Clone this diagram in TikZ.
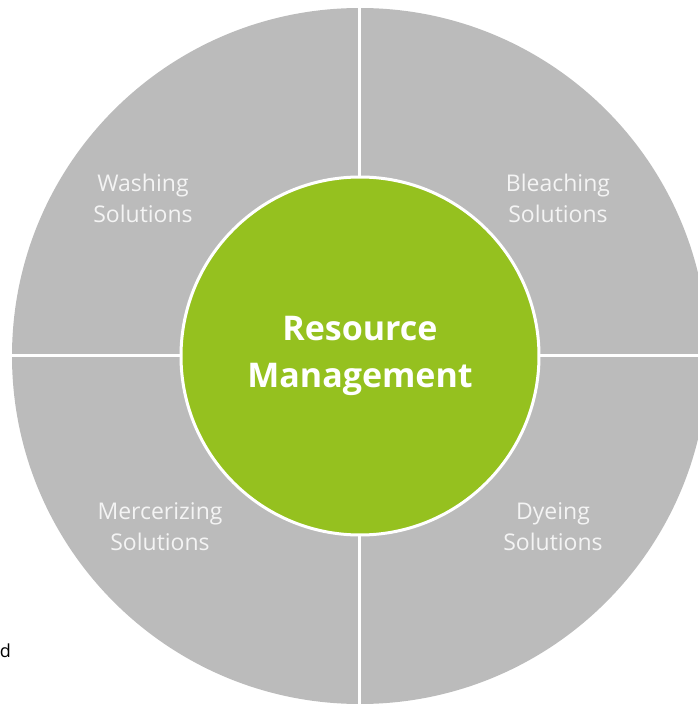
\documentclass[tikz,border=0pt]{standalone}
\usepackage{fontspec}
\setmainfont{Open Sans}
\usepackage{xcolor}
\usepackage{tikz}
\usetikzlibrary{positioning}
\definecolor{ringgray}{HTML}{BBBBBB}
\definecolor{leafgreen}{HTML}{95C11F}
\definecolor{labelwhite}{HTML}{F4F4F4}

\begin{document}
\begin{tikzpicture}[x=1pt, y=1pt,
    seglabel/.style={align=center, text=labelwhite, font=\fontsize{23}{31}\selectfont},
    hub/.style={circle, fill=leafgreen, draw=white, line width=3pt, minimum size=358pt,
      align=center, text=white, font=\bfseries\fontsize{34}{47}\selectfont}]
    \clip (-360,-348) rectangle (338,356);
    % outer ring, split into four quarters
    \fill[ringgray] (0,0) circle (348);
    \draw[white, line width=3pt] (0,350) -- (0,-350);
    \draw[white, line width=3pt] (-350,0) -- (350,0);
    % centre
    \node[hub] (core) at (0,0) {Resource\\Management};
    % quarter labels
    \node[seglabel] (wash)  at (-217,158) {Washing\\Solutions};
    \node[seglabel] (bleach) at (198,158) {Bleaching\\Solutions};
    \node[seglabel] (merc)  at (-200,-171) {Mercerizing\\Solutions};
    \node[seglabel] (dye)   at (193,-171) {Dyeing\\Solutions};
    % stray text at the left edge
    \node[font=\fontsize{18}{20}\selectfont, anchor=base east, inner sep=0pt] (edge) at (-349,-301) {d};
\end{tikzpicture}
\end{document}
